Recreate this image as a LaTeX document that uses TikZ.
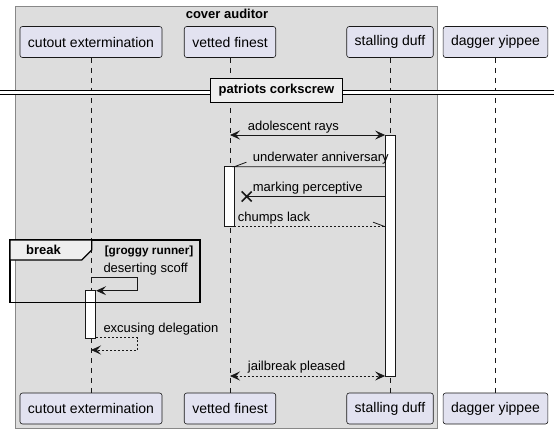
\documentclass[tikz,border=0pt]{standalone}
\usepackage{fontspec}
\setmainfont{Liberation Sans}
\usetikzlibrary{arrows.meta,calc}
\definecolor{partfill}{HTML}{E2E2F0}
\definecolor{linec}{HTML}{181818}
\definecolor{grpfill}{HTML}{DDDDDD}
\definecolor{grpline}{HTML}{888888}
\definecolor{tabfill}{HTML}{EEEEEE}
\tikzset{
  part/.style={draw=linec, fill=partfill, rounded corners=2.5pt, line width=0.6pt,
    minimum height=31pt, inner xsep=8pt, inner ysep=0pt,
    font=\fontsize{14}{16}\selectfont},
  lifeline/.style={draw=linec, line width=0.6pt, dash pattern=on 5pt off 5pt},
  actbar/.style={draw=linec, fill=white, line width=0.8pt, minimum width=10pt, inner sep=0pt},
  msg/.style={draw=linec, line width=0.8pt},
  dmsg/.style={msg, dash pattern=on 2pt off 2pt},
  tip/.style={-{Stealth[length=10pt,width=9pt,inset=4pt]}},
  dtip/.style={{Stealth[length=10pt,width=9pt,inset=4pt]}-{Stealth[length=10pt,width=9pt,inset=4pt]}},
  lbl/.style={anchor=base west, inner sep=0pt, text=black, font=\fontsize{13}{15}\selectfont},
  boldlbl/.style={inner sep=0pt, text=black, font=\fontsize{13}{15}\selectfont\bfseries},
}
\begin{document}
\begin{tikzpicture}[x=1pt,y=-1pt]
\useasboundingbox (0,0) rectangle (559,434);
% group box
\draw[fill=grpfill, draw=grpline, line width=0.8pt] (15.5,6.5) rectangle (437,428.5);
\node[boldlbl] (grt) at (227,14) {cover auditor};
% participants
\node[part] (ct) at (91,42) {cutout extermination};
\node[part] (vf) at (230,42) {vetted finest};
\node[part] (sd) at (390,42) {stalling duff};
\node[part] (dy) at (495.5,42) {dagger yippee};
\node[part] (ctb) at (91,408.5) {cutout extermination};
\node[part] (vfb) at (230,408.5) {vetted finest};
\node[part] (sdb) at (390,408.5) {stalling duff};
\node[part] (dyb) at (495.5,408.5) {dagger yippee};
% lifelines
\draw[lifeline] (ct.south) -- (ctb.north);
\draw[lifeline] (vf.south) -- (vfb.north);
\draw[lifeline] (sd.south) -- (sdb.north);
\draw[lifeline] (dy.south) -- (dyb.north);
% divider
\draw[fill=white, draw=none] (0,90.5) rectangle (554,94);
\coordinate (dvl) at (0,90.5);
\coordinate (dvr) at (554,90.5);
\coordinate (dvl2) at (0,94);
\coordinate (dvr2) at (554,94);
\draw[black, line width=0.9pt] (dvl) -- (dvr);
\draw[black, line width=0.9pt] (dvl2) -- (dvr2);
\node[draw=black, line width=1.8pt, fill=tabfill, minimum width=132pt, minimum height=24pt, inner sep=0pt,
  font=\fontsize{13}{15}\selectfont\bfseries] (div) at (276.5,90.5) {patriots corkscrew};
% activations
\node[actbar, minimum height=241pt] (actS) at (390.5,255.5) {};
\node[actbar, minimum height=60pt] (actV) at (229,196.7) {};
\node[actbar, minimum height=47.6pt] (actC) at (90.7,314.5) {};
% y levels
\coordinate (m1) at (0,135);
\coordinate (m2) at (0,166.7);
\coordinate (m3) at (0,196.5);
\coordinate (m4) at (0,226.7);
\coordinate (m5a) at (0,277.7);
\coordinate (m5b) at (0,290.7);
\coordinate (m6a) at (0,337.5);
\coordinate (m6b) at (0,350);
\coordinate (m7) at (0,376);
\coordinate (selfx) at (137.7,0);
% adolescent rays
\draw[msg, dtip] (vf |- m1) -- (actS.west |- m1);
\node[lbl] (l1) at (247.7,130.5) {adolescent rays};
% underwater anniversary
\draw[msg] (actS.west |- m2) -- (actV.east |- m2) -- ++(12,-4.5);
\node[lbl] (l2) at (252.7,161.5) {underwater anniversary};
% marking perceptive
\coordinate (xm) at (246.7,196.5);
\draw[msg] (actS.west |- m3) -- (xm);
\draw[linec, line width=1.6pt] ($(xm)+(-5,-5)$) -- ($(xm)+(5,5)$) ($(xm)+(-5,5)$) -- ($(xm)+(5,-5)$);
\node[lbl] (l3) at (252.7,191.5) {marking perceptive};
% chumps lack
\draw[dmsg] (actV.east |- m4) -- (actS.west |- m4);
\draw[msg] (actS.west |- m4) -- ++(-12,-4.5);
\node[lbl] (l4) at (237.7,221.7) {chumps lack};
% break frame
\draw[black, line width=1.5pt] (10,240) rectangle (200,302.7);
\draw[black, line width=1.2pt, fill=tabfill] (10,240) -- (91.7,240) -- (91.7,250) -- (81.7,260) -- (10,260) -- cycle;
\node[boldlbl] (brk) at (43.5,250) {break};
\node[inner sep=0pt, anchor=base east, font=\fontsize{11.8}{13}\selectfont\bfseries] (grd) at (193.5,254.5) {[groggy runner]};
% deserting scoff
\draw[msg, tip] (ct |- m5a) -- (selfx |- m5a) -- (selfx |- m5b) -- (actC.east |- m5b);
\node[lbl] (l5) at (103.3,272.7) {deserting scoff};
% excusing delegation
\draw[dmsg, tip] (actC.east |- m6a) -- (selfx |- m6a) -- (selfx |- m6b) -- (ct |- m6b);
\node[lbl] (l6) at (103.3,332.7) {excusing delegation};
% jailbreak pleased
\draw[dmsg, dtip] (vf |- m7) -- (actS.west |- m7);
\node[lbl] (l7) at (247.7,370.5) {jailbreak pleased};
\end{tikzpicture}
\end{document}
